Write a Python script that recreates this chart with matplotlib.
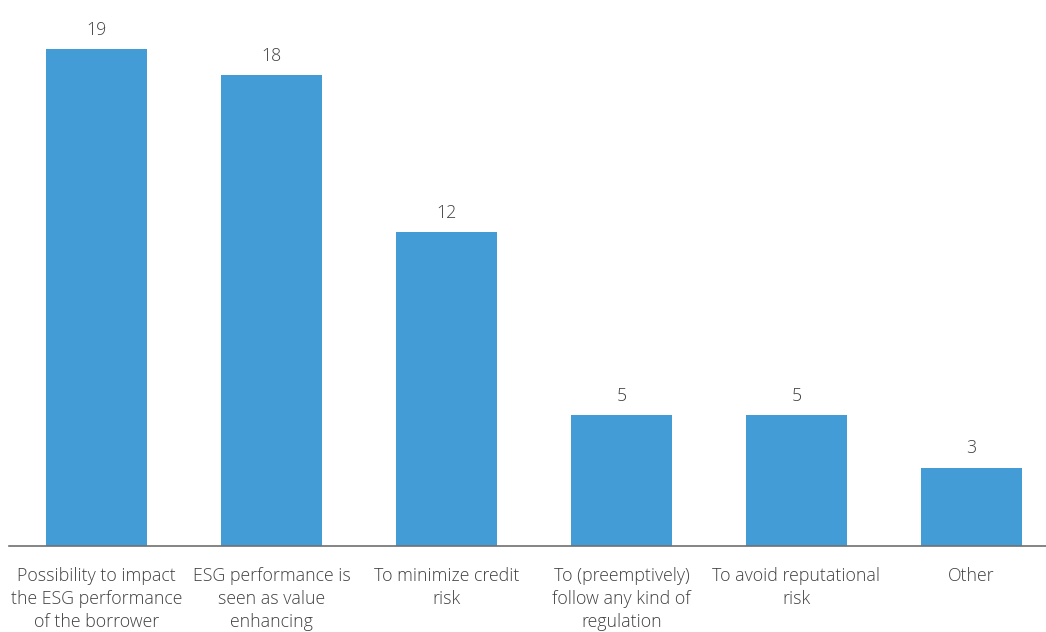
import matplotlib
matplotlib.use("Agg")
import matplotlib.pyplot as plt

categories = [
    "Possibility to impact\nthe ESG performance\nof the borrower",
    "ESG performance is\nseen as value\nenhancing",
    "To minimize credit\nrisk",
    "To (preemptively)\nfollow any kind of\nregulation",
    "To avoid reputational\nrisk",
    "Other",
]
values = [19, 18, 12, 5, 5, 3]

plt.rcParams['font.family'] = ['Open Sans', 'DejaVu Sans']

W, H = 1046, 632
fig = plt.figure(figsize=(W / 100, H / 100), dpi=100)
base_px = 546
top_px = 23
ax = fig.add_axes([9 / W, (H - base_px) / H, 1 - 9 / W, (base_px - top_px) / H])

x = list(range(len(values)))
ax.bar(x, values, width=0.577, color="#439CD6")
for xi, v in zip(x, values):
    ax.text(xi, v + 0.4, str(v), ha="center", va="bottom", fontsize=12.8,
            color="#404040", fontweight="light")

ax.set_xlim(-0.5, 5.426)
ax.set_ylim(0, 20)
ax.set_yticks([])
ax.set_xticks(x)
ax.set_xticklabels(categories, fontsize=12.8, color="#404040", fontweight="light",
                   linespacing=1.37)
ax.tick_params(axis="x", length=0, pad=15)
for s in ["top", "right", "left"]:
    ax.spines[s].set_visible(False)
ax.spines["bottom"].set_color("#707070")
ax.spines["bottom"].set_linewidth(1.2)

fig.savefig("out.png", dpi=100)
